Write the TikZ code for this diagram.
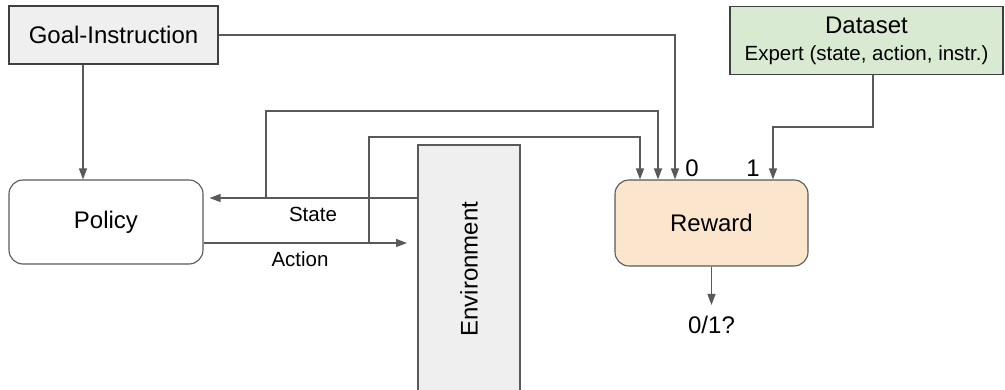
\documentclass[tikz,border=0pt]{standalone}
\usepackage{fontspec}
\setmainfont{Liberation Sans}
\usepackage{xcolor}
\usetikzlibrary{arrows.meta,calc,positioning}

\definecolor{linegray}{HTML}{595959}
\definecolor{boxgray}{HTML}{EFEFEF}
\definecolor{datagreen}{HTML}{D9EAD3}
\definecolor{rewardorange}{HTML}{FCE5CD}

\newcommand{\bigfont}{\fontsize{24}{28}\selectfont}
\newcommand{\smallfont}{\fontsize{20.5}{24}\selectfont}

\begin{document}
\begin{tikzpicture}[
      x=1pt, y=-1pt,
      inputbox/.style={draw=black!75, line width=1.1pt, fill=boxgray,
        align=center, font=\bigfont, inner sep=0pt},
      agentbox/.style={draw=linegray, line width=1.1pt, rounded corners=14pt, fill=white,
        minimum width=194pt, minimum height=84pt, align=center, font=\bigfont},
      envbox/.style={draw=linegray, line width=1.1pt, fill=boxgray,
        minimum width=102pt, minimum height=248pt, font=\bigfont},
      rewardbox/.style={draw=linegray, line width=1.1pt, rounded corners=14pt, fill=rewardorange,
        minimum width=193pt, minimum height=86pt, align=center, font=\bigfont},
      lbl/.style={font=\smallfont, inner sep=1pt},
      arrow/.style={-{Triangle[length=11pt, width=8pt]}, line width=1.2pt, draw=linegray}
    ]
    \useasboundingbox (0,0) rectangle (1005,390);

    \node[inputbox, minimum width=209pt, minimum height=58pt] (goal) at (113.5,35) {Goal-Instruction};
    \node[inputbox, fill=datagreen, minimum width=273pt, minimum height=68pt] (dataset) at (866.5,40.5)
      {Dataset\\[-1pt]{\smallfont Expert (state, action, instr.)}};

    \node[agentbox] (policy) at (106,222) {Policy};
    \node[envbox] (env) at (469,269) {};
    \node[font=\bigfont, rotate=90] (envText) at (env.center) {Environment};
    \node[rewardbox] (reward) at (711.5,223) {Reward};
    \node[font=\bigfont, inner sep=1pt] (result) at (711.5,325) {0/1?};

    % inputs on top of the reward box
    \coordinate (inAction) at (640,0 |- reward.north);
    \coordinate (inState) at (658,0 |- reward.north);
    \coordinate (inGoal) at (675,0 |- reward.north);
    \coordinate (inExpert) at (773,0 |- reward.north);
    \node[lbl, font=\bigfont] (zeroLbl) at (692,168) {0};
    \node[lbl, font=\bigfont] (oneLbl) at (753,168) {1};

    % state and action
    \coordinate (stateSrc) at (env.west |- 0,198);
    \coordinate (stateTap) at (266,198);
    \coordinate (actSrc) at (policy.east |- 0,243);
    \coordinate (actTap) at (369,243);
    \coordinate (actEnd) at (407,243);

    \draw[arrow, shorten >=6pt] (stateSrc) -- (stateSrc -| policy.east);
    \draw[arrow] (actSrc) -- (actEnd);
    \node[lbl] (stateLbl) at (313,214) {State};
    \node[lbl] (actLbl) at (300,259) {Action};

    \draw[arrow] (stateTap) -- ++(0,-87) -| (inState);
    \draw[arrow] (actTap) -- ++(0,-106) -| (inAction);
    \draw[arrow] (goal.east) -| (inGoal);
    \draw[arrow] ([xshift=-30.5pt]goal.south) -- ([xshift=-30.5pt]goal.south |- policy.north);
    \draw[arrow] ([xshift=6.5pt]dataset.south) -- ++(0,52) -| (inExpert);
    \draw[arrow, shorten >=10pt] (reward) -- (result);
  \end{tikzpicture}
\end{document}
